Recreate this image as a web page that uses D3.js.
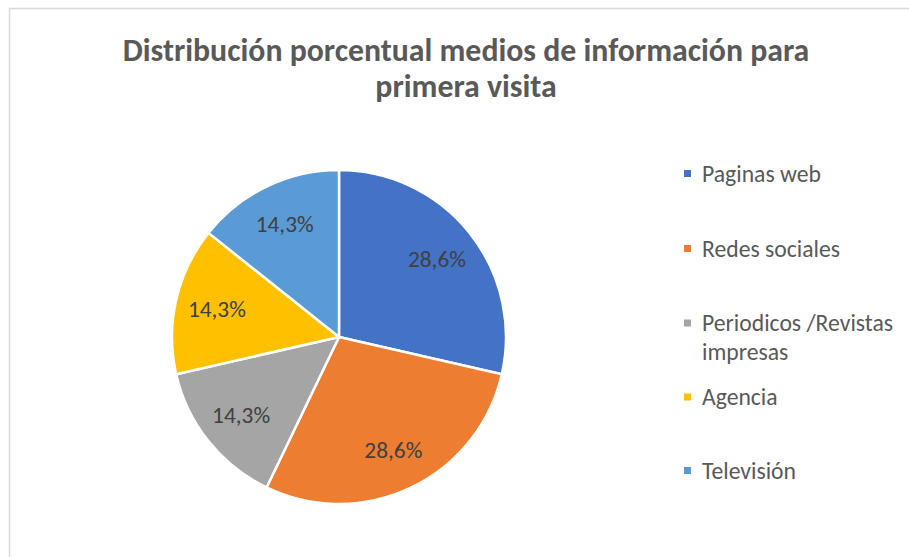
<!DOCTYPE html>
<html>
<head>
<meta charset="utf-8">
<script src="https://cdn.jsdelivr.net/npm/d3@7"></script>
<style>
  body { margin: 0; background: #fff; }
  svg { display: block; }
</style>
</head>
<body>
<div id="chart-area"></div>
<script>
// Data
var categories = ["Paginas web", "Redes sociales", "Periodicos /Revistas impresas", "Agencia", "Televisión"];
var counts = [2, 2, 1, 1, 1];
var legendLines = [["Paginas web"], ["Redes sociales"], ["Periodicos /Revistas", "impresas"], ["Agencia"], ["Televisión"]];
var titleLines = ["Distribución porcentual medios de información para", "primera visita"];
var colors = ["#4472C4", "#ED7D31", "#A5A5A5", "#FFC000", "#5B9BD5"];

var width = 909;
var height = 557;
var fontFam = "Carlito, Calibri, Lato, 'Open Sans', sans-serif";

var svg = d3.select("#chart-area")
    .append("svg")
    .attr("width", width)
    .attr("height", height);

// chart border
svg.append("rect")
    .attr("x", 9.5)
    .attr("y", 8.5)
    .attr("width", width + 20)
    .attr("height", height + 20)
    .attr("fill", "#fff")
    .attr("stroke", "#d9d9d9")
    .attr("stroke-width", 1.5);

// fit a text element's font size to a target width
function fitText(sel, target, startSize) {
    sel.attr("font-size", startSize + "px");
    var w = sel.node().getComputedTextLength();
    var size = startSize * target / w;
    sel.attr("font-size", size + "px");
    return size;
}

// Title
var t1 = svg.append("text")
    .attr("x", 466)
    .attr("y", 61)
    .attr("text-anchor", "middle")
    .attr("font-family", fontFam)
    .attr("font-weight", "bold")
    .attr("fill", "#595959")
    .text(titleLines[0]);
var titleSize = fitText(t1, 687, 26);

svg.append("text")
    .attr("x", 466)
    .attr("y", 97)
    .attr("text-anchor", "middle")
    .attr("font-family", fontFam)
    .attr("font-weight", "bold")
    .attr("font-size", titleSize + "px")
    .attr("fill", "#595959")
    .text(titleLines[1]);

// Pie
var cx = 339, cy = 337, radius = 167;
var total = d3.sum(counts);
var pct = d3.format(".1f");

var pie = d3.pie()
    .sort(null)
    .value(function(d) { return d; });

var arc = d3.arc()
    .innerRadius(0)
    .outerRadius(radius);

var labelArc = d3.arc()
    .innerRadius(radius * 0.75)
    .outerRadius(radius * 0.75);

var g = svg.append("g")
    .attr("transform", "translate(" + cx + "," + cy + ")");

var arcs = pie(counts);

g.selectAll("path")
    .data(arcs)
    .enter()
    .append("path")
    .attr("d", arc)
    .attr("fill", function(d, i) { return colors[i]; })
    .attr("stroke", "#fff")
    .attr("stroke-width", 2.5)
    .attr("stroke-linejoin", "round");

var labels = g.selectAll("text.lbl")
    .data(arcs)
    .enter()
    .append("text")
    .attr("class", "lbl")
    .attr("transform", function(d) { return "translate(" + labelArc.centroid(d) + ")"; })
    .attr("dy", "0.35em")
    .attr("text-anchor", "middle")
    .attr("font-family", fontFam)
    .attr("fill", "#404040")
    .text(function(d) { return pct(d.value / total * 100).replace(".", ",") + "%"; });

var lblSize = fitText(d3.select(labels.nodes()[0]), 58, 19);
labels.attr("font-size", lblSize + "px");

// Legend
var legendY = [173.5, 248.5, 323, 397, 470.5];
var legend = svg.append("g");

var legItems = legend.selectAll("g")
    .data(categories)
    .enter()
    .append("g")
    .attr("transform", function(d, i) { return "translate(684," + legendY[i] + ")"; });

legItems.append("rect")
    .attr("x", 0)
    .attr("y", -3.5)
    .attr("width", 7)
    .attr("height", 7)
    .attr("fill", function(d, i) { return colors[i]; });

var legTexts = legItems.append("text")
    .attr("x", 18)
    .attr("y", 0)
    .attr("dy", "0.35em")
    .attr("font-family", fontFam)
    .attr("fill", "#595959");

legTexts.each(function(d, i) {
    var el = d3.select(this);
    legendLines[i].forEach(function(line, j) {
        el.append("tspan")
            .attr("x", 18)
            .attr("dy", j === 0 ? "0.35em" : "1.2em")
            .text(line);
    });
});
legTexts.attr("dy", null);

var probe = svg.append("text")
    .attr("font-family", fontFam)
    .text(legendLines[0][0]);
var legSize = fitText(probe, 119, 20);
probe.remove();
legTexts.attr("font-size", legSize + "px");
</script>
</body>
</html>
